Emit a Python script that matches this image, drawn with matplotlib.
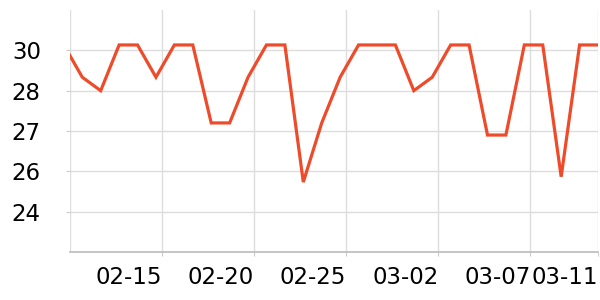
import matplotlib
matplotlib.use("Agg")
import matplotlib.pyplot as plt
import matplotlib.dates as mdates
import pandas as pd

# data: daily values
dates = pd.date_range("2023-02-10", "2023-03-11", freq="D")
values = [30.2, 29.0, 28.5, 30.2, 30.2, 29.0, 30.2, 30.2, 27.3, 27.3,
          29.0, 30.2, 30.2, 25.1, 27.3, 29.0, 30.2, 30.2, 30.2, 28.5,
          29.0, 30.2, 30.2, 26.85, 26.85, 30.2, 30.2, 25.3, 30.2, 30.2]

x_tick_times = ["2023-02-15 08:00", "2023-02-20 08:00", "2023-02-25 08:00",
                "2023-03-02 08:00", "2023-03-07 08:00", "2023-03-11 00:00"]
x_tick_labels = ["02-15", "02-20", "02-25", "03-02", "03-07", "03-11"]
y_ticks = [24, 25.5, 27, 28.5, 30]
y_tick_labels = ["24", "26", "27", "28", "30"]

fig = plt.figure(figsize=(6, 3), dpi=100)
ax = fig.add_axes([70 / 600, 48 / 300, 528 / 600, 242 / 300])

ax.plot(dates, values, color="#ee4b2b", lw=2.3, solid_joinstyle="miter", zorder=3)

ax.set_xlim(pd.Timestamp("2023-02-10 08:00"), pd.Timestamp("2023-03-11 00:00"))
ax.set_ylim(22.5, 31.5)

ax.set_xticks([mdates.date2num(pd.Timestamp(t)) for t in x_tick_times])
ax.set_xticklabels(x_tick_labels, ha="right")
ax.set_yticks(y_ticks)
ax.set_yticklabels(y_tick_labels)

ax.grid(True, color="#dddddd", lw=1)
ax.set_axisbelow(True)
for s in ["top", "right", "left"]:
    ax.spines[s].set_visible(False)
ax.spines["bottom"].set_color("#bbbbbb")
ax.spines["bottom"].set_linewidth(1.2)
ax.axvline(ax.get_xlim()[0], color="#dddddd", lw=1, zorder=0)

ax.tick_params(axis="both", colors="#cccccc", labelcolor="black", labelsize=16.5, length=3)
ax.tick_params(axis="y", pad=18)
ax.tick_params(axis="x", pad=7)

fig.savefig("out.png", dpi=100)
